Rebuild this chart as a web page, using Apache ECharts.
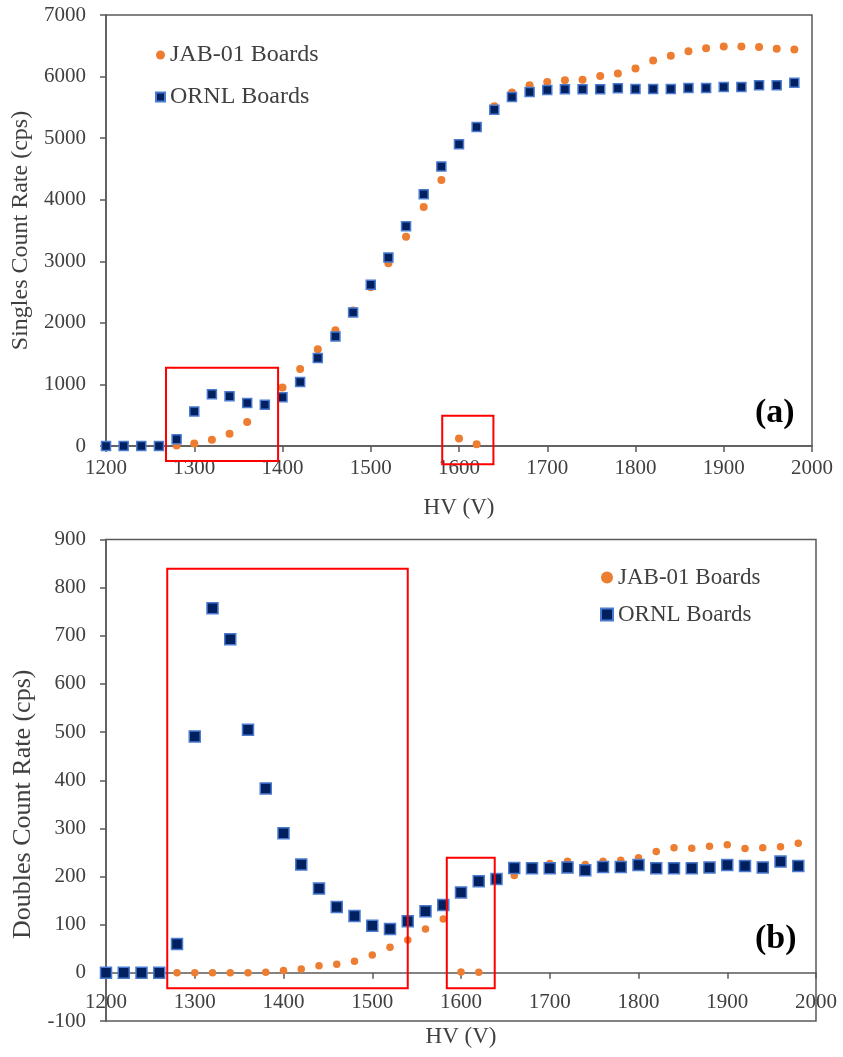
<!DOCTYPE html>
<html>
<head>
<meta charset="utf-8">
<title>Singles and Doubles Count Rate vs HV</title>
<script src="https://cdn.jsdelivr.net/npm/echarts@6/dist/echarts.min.js"></script>
<style>
  html, body { margin: 0; padding: 0; background: #fff; }
  #chart { width: 843px; height: 1057px; }
</style>
</head>
<body>
<div id="chart"></div>
<script>
// High-voltage steps (V)
const hv = [1200, 1220, 1240, 1260, 1280, 1300, 1320, 1340, 1360, 1380,
            1400, 1420, 1440, 1460, 1480, 1500, 1520, 1540, 1560, 1580,
            1600, 1620, 1640, 1660, 1680, 1700, 1720, 1740, 1760, 1780,
            1800, 1820, 1840, 1860, 1880, 1900, 1920, 1940, 1960, 1980];

// (a) Singles count rate (cps)
const singlesJab = [0, 0, 0, 0, 10, 40, 100, 200, 390, 650,
                    950, 1250, 1570, 1880, 2200, 2580, 2970, 3400, 3880, 4320,
                    120, 30, 5520, 5740, 5860, 5910, 5940, 5950, 6010, 6050,
                    6130, 6260, 6340, 6410, 6460, 6490, 6490, 6480, 6450, 6440];
const singlesOrnl = [0, 0, 0, 0, 110, 560, 840, 810, 700, 670,
                     790, 1040, 1430, 1780, 2170, 2620, 3060, 3570, 4090, 4540,
                     4900, 5180, 5460, 5670, 5750, 5780, 5795, 5795, 5795, 5810,
                     5800, 5800, 5800, 5815, 5815, 5830, 5830, 5860, 5860, 5900];

// (b) Doubles count rate (cps)
const doublesJab = [0, 0, 0, 0, 0, 0, 0, 0, 0, 1,
                    5, 8, 15, 18, 24, 37, 53, 68, 91, 112,
                    2, 1, 192, 202, 215, 227, 232, 225, 232, 234,
                    239, 252, 260, 259, 263, 266, 258, 260, 262, 269];
const doublesOrnl = [0, 0, 0, 0, 60, 491, 757, 693, 505, 383,
                     290, 225, 175, 137, 118, 98, 91, 107, 128, 141,
                     167, 190, 195, 218, 217, 217, 219, 213, 220, 220,
                     224, 217, 217, 217, 219, 224, 222, 219, 231, 222];

// Highlighted regions: [HV from, rate top, HV to, rate bottom]
const singlesBoxes = [[1268, 1271, 1395, -243], [1581, 492, 1639, -297]];
const doublesBoxes = [[1269, 839, 1540, -32], [1584, 239, 1638, -32]];

// Axis tick settings
const hvTicks = { min: 1200, max: 2000, interval: 100 };
const singlesTicks = { min: 0, max: 7000, interval: 1000 };
const doublesTicks = { min: -100, max: 900, interval: 100 };

const seriesNames = ['JAB-01 Boards', 'ORNL Boards'];

const FONT = '"Liberation Serif", "Times New Roman", serif';
const AXIS_COLOR = '#595959';
const TEXT_COLOR = '#404040';
const ORANGE = '#ED7D31';
const NAVY = '#002060';
const NAVY_EDGE = '#4A7BD0';

// Panel layout (px)
const panelA = { left: 106, right: 31, top: 15, height: 431 };
const panelB = { left: 106, right: 27, top: 539.5, height: 481.5 };

function pairs(xs, ys) {
  return xs.map((x, i) => [x, ys[i]]);
}

// Distance from a panel's bottom edge up to its zero line
function zeroLift(panel, ticks) {
  return panel.height * (0 - ticks.min) / (ticks.max - ticks.min);
}

const plainNumber = v => String(v);

function xAxisCfg(gridIndex, labelMargin, nameGap, offset) {
  return {
    type: 'value', gridIndex, position: 'bottom', offset,
    min: hvTicks.min, max: hvTicks.max, interval: hvTicks.interval,
    name: 'HV (V)', nameLocation: 'middle', nameGap,
    nameTextStyle: { fontFamily: FONT, fontSize: 23, color: TEXT_COLOR },
    axisLine: { show: true, onZero: false, lineStyle: { color: AXIS_COLOR, width: 1.5 } },
    axisTick: { show: true, inside: false, length: 6, lineStyle: { color: AXIS_COLOR, width: 1.5 } },
    axisLabel: { fontFamily: FONT, fontSize: 21, color: TEXT_COLOR, margin: labelMargin,
                 showMinLabel: true, showMaxLabel: true, formatter: plainNumber },
    splitLine: { show: false }
  };
}

function yAxisCfg(gridIndex, ticks, name, nameSize, nameGap, namePadding) {
  return {
    type: 'value', gridIndex,
    min: ticks.min, max: ticks.max, interval: ticks.interval,
    name, nameLocation: 'middle', nameGap, nameRotate: 90,
    nameTextStyle: { fontFamily: FONT, fontSize: nameSize, color: TEXT_COLOR, padding: namePadding },
    axisLine: { show: true, onZero: false, lineStyle: { color: AXIS_COLOR, width: 1.5 } },
    axisTick: { show: true, inside: false, length: 6, lineStyle: { color: AXIS_COLOR, width: 1.5 } },
    axisLabel: { fontFamily: FONT, fontSize: 21, color: TEXT_COLOR, margin: 20, formatter: plainNumber },
    splitLine: { show: false }
  };
}

function jabSeries(idx, data, size) {
  return {
    name: seriesNames[0], type: 'scatter', xAxisIndex: idx, yAxisIndex: idx,
    symbol: 'circle', symbolSize: size, z: 2,
    itemStyle: { color: ORANGE, opacity: 1 },
    data
  };
}

function ornlSeries(idx, data, size) {
  return {
    name: seriesNames[1], type: 'scatter', xAxisIndex: idx, yAxisIndex: idx,
    symbol: 'rect', symbolSize: size, z: 3,
    itemStyle: { color: NAVY, borderColor: NAVY_EDGE, borderWidth: 1.5, opacity: 1 },
    data
  };
}

function boxSeries(idx, boxes) {
  return {
    type: 'custom', xAxisIndex: idx, yAxisIndex: idx,
    clip: false, silent: true, z: 4,
    data: boxes,
    renderItem(params, api) {
      const p1 = api.coord([api.value(0), api.value(1)]);
      const p2 = api.coord([api.value(2), api.value(3)]);
      return {
        type: 'rect',
        shape: { x: p1[0], y: p1[1], width: p2[0] - p1[0], height: p2[1] - p1[1] },
        style: { fill: null, stroke: '#FF0000', lineWidth: 2 }
      };
    }
  };
}

function gridCfg(panel) {
  return Object.assign({}, panel, {
    outerBoundsMode: 'none', containLabel: false,
    show: true, borderColor: AXIS_COLOR, borderWidth: 1.5, backgroundColor: 'transparent'
  });
}

const chart = echarts.init(document.getElementById('chart'), null, { renderer: 'canvas' });

chart.setOption({
  backgroundColor: '#ffffff',
  animation: false,
  textStyle: { fontFamily: FONT },
  grid: [gridCfg(panelA), gridCfg(panelB)],
  legend: [
    {
      orient: 'vertical', left: 155, top: 43, padding: 0, itemGap: 18,
      itemWidth: 9, itemHeight: 9, selectedMode: false,
      textStyle: { fontFamily: FONT, fontSize: 24, color: TEXT_COLOR },
      data: [{ name: seriesNames[0], icon: 'circle' }, { name: seriesNames[1], icon: 'rect' }]
    },
    {
      orient: 'vertical', left: 600, top: 566, padding: 0, itemGap: 14,
      itemWidth: 12, itemHeight: 12, selectedMode: false,
      textStyle: { fontFamily: FONT, fontSize: 23, color: TEXT_COLOR },
      data: [{ name: seriesNames[0], icon: 'circle' }, { name: seriesNames[1], icon: 'rect' }]
    }
  ],
  xAxis: [
    xAxisCfg(0, 12, 50, -zeroLift(panelA, singlesTicks)),
    xAxisCfg(1, 19, 53, -zeroLift(panelB, doublesTicks))
  ],
  yAxis: [
    yAxisCfg(0, singlesTicks, 'Singles Count Rate (cps)', 24, 64, [0, 0, 0, 0]),
    yAxisCfg(1, doublesTicks, 'Doubles Count Rate (cps)', 26, 67, [0, 48, 0, 0])
  ],
  series: [
    jabSeries(0, pairs(hv, singlesJab), 8),
    ornlSeries(0, pairs(hv, singlesOrnl), 9),
    boxSeries(0, singlesBoxes),
    jabSeries(1, pairs(hv, doublesJab), 7.5),
    ornlSeries(1, pairs(hv, doublesOrnl), 11),
    boxSeries(1, doublesBoxes)
  ],
  graphic: [
    { type: 'text', left: 755, top: 396, z: 10,
      style: { text: '(a)', font: 'bold 34px ' + FONT, fill: '#000' } },
    { type: 'text', left: 755, top: 922, z: 10,
      style: { text: '(b)', font: 'bold 34px ' + FONT, fill: '#000' } }
  ]
});
</script>
</body>
</html>
